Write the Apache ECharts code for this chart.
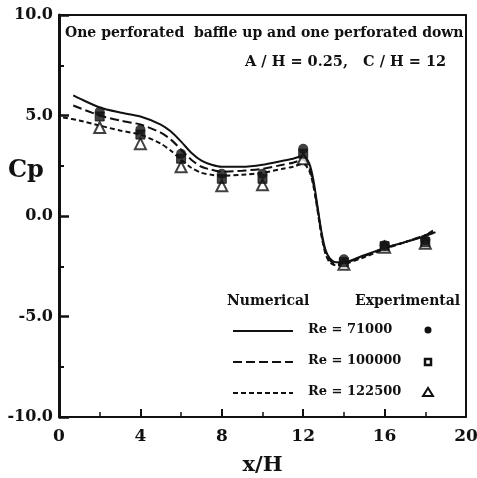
<!DOCTYPE html>
<html>
<head>
<meta charset="utf-8">
<script src="https://cdn.jsdelivr.net/npm/echarts@6/dist/echarts.min.js"></script>
<style>
html,body{margin:0;padding:0;background:#fff;}
#c{width:477px;height:478px;}
</style>
</head>
<body>
<div id="c"></div>
<script>
// ---- data ----
var xTicks = [0, 4, 8, 12, 16, 20];
var yTicks = [-10, -5, 0, 5, 10];

var numX71 = [0.7, 1, 2, 3, 4, 5, 5.5, 6, 6.5, 7, 7.5, 8, 9, 10, 11, 11.5, 12, 12.3, 12.5, 12.7, 12.9, 13.1, 13.3, 13.6, 14, 15, 16, 17, 18, 18.5];
var numY71 = [6.0, 5.85, 5.4, 5.15, 4.95, 4.55, 4.2, 3.7, 3.15, 2.75, 2.55, 2.45, 2.45, 2.55, 2.75, 2.85, 3.0, 2.6, 1.8, 0.5, -0.8, -1.7, -2.1, -2.3, -2.3, -1.95, -1.6, -1.3, -1.0, -0.8];

var numX100 = [0.7, 2, 3, 4, 5, 5.5, 6, 6.5, 7, 7.5, 8, 9, 10, 11, 11.5, 12, 12.3, 12.5, 12.7, 12.9, 13.1, 13.3, 13.6, 14, 15, 16, 17, 18, 18.5];
var numY100 = [5.5, 5.0, 4.75, 4.55, 4.15, 3.8, 3.3, 2.8, 2.45, 2.3, 2.2, 2.25, 2.35, 2.55, 2.65, 2.8, 2.4, 1.6, 0.4, -0.9, -1.8, -2.2, -2.4, -2.35, -2.0, -1.6, -1.3, -0.95, -0.75];

var numX122 = [0.2, 1, 2, 3, 4, 5, 5.5, 6, 6.5, 7, 7.5, 8, 9, 10, 11, 11.5, 12, 12.3, 12.5, 12.7, 12.9, 13.1, 13.3, 13.6, 14, 15, 16, 17, 18, 18.5];
var numY122 = [4.9, 4.75, 4.5, 4.25, 4.05, 3.6, 3.25, 2.8, 2.4, 2.15, 2.05, 2.0, 2.05, 2.15, 2.35, 2.45, 2.6, 2.25, 1.5, 0.3, -1.0, -1.9, -2.3, -2.45, -2.4, -2.05, -1.65, -1.3, -0.95, -0.65];

var expX = [2, 4, 6, 8, 10, 12, 14, 16, 18];
var expY71 = [5.2, 4.3, 3.1, 2.1, 2.1, 3.35, -2.15, -1.45, -1.2];
var expY100 = [4.95, 4.05, 2.85, 1.85, 1.85, 3.1, -2.3, -1.5, -1.3];
var expY122 = [4.4, 3.6, 2.45, 1.5, 1.55, 2.85, -2.4, -1.55, -1.35];

var legendLabels = ['Re = 71000', 'Re = 100000', 'Re = 122500'];

function pairs(xs, ys) { return xs.map(function (x, i) { return [x, ys[i]]; }); }

var FONT = '"DejaVu Serif", "Liberation Serif", serif';
var INK = '#111';

var chart = echarts.init(document.getElementById('c'), null, {renderer: 'canvas'});

var lineBase = { type: 'line', showSymbol: false, smooth: 0.25, z: 2, silent: true };

var option = {
  animation: false,
  backgroundColor: '#fff',
  grid: { left: 59, right: 11, top: 15, bottom: 61, containLabel: false, outerBoundsMode: 'none' },
  xAxis: [{
    type: 'value', min: 0, max: 20, interval: 4,
    axisLine: { show: true, onZero: false, lineStyle: { color: INK, width: 2 } },
    axisTick: { show: true, inside: true, length: 8, lineStyle: { color: INK, width: 2 } },
    minorTick: { show: true, splitNumber: 2, length: 5, lineStyle: { color: INK, width: 1.5 } },
    splitLine: { show: false },
    axisLabel: { color: INK, fontFamily: FONT, fontWeight: 'bold', fontSize: 17, margin: 11 },
    name: 'x/H', nameLocation: 'middle', nameGap: 38,
    nameTextStyle: { color: INK, fontFamily: FONT, fontWeight: 'bold', fontSize: 21 }
  }, {
    type: 'value', min: 0, max: 20, position: 'top',
    axisLine: { show: true, onZero: false, lineStyle: { color: INK, width: 2 } },
    axisTick: { show: false }, axisLabel: { show: false }, splitLine: { show: false }
  }],
  yAxis: [{
    type: 'value', min: -10, max: 10, interval: 5,
    axisLine: { show: true, onZero: false, lineStyle: { color: INK, width: 3 } },
    axisTick: { show: true, inside: true, length: 10, lineStyle: { color: INK, width: 2.5 } },
    minorTick: { show: true, splitNumber: 2, length: 5, lineStyle: { color: INK, width: 2 } },
    splitLine: { show: false },
    axisLabel: { color: INK, fontFamily: FONT, fontWeight: 'bold', fontSize: 16, margin: 6,
      formatter: function (v) { return v.toFixed(1); } }
  }, {
    type: 'value', min: -10, max: 10, position: 'right',
    axisLine: { show: true, onZero: false, lineStyle: { color: INK, width: 2 } },
    axisTick: { show: false }, axisLabel: { show: false }, splitLine: { show: false }
  }],
  series: [
    Object.assign({}, lineBase, { name: legendLabels[0], data: pairs(numX71, numY71),
      lineStyle: { color: INK, width: 2, type: 'solid' } }),
    Object.assign({}, lineBase, { name: legendLabels[1], data: pairs(numX100, numY100),
      lineStyle: { color: INK, width: 2, type: [9, 4] } }),
    Object.assign({}, lineBase, { name: legendLabels[2], data: pairs(numX122, numY122),
      lineStyle: { color: INK, width: 2, type: [5, 3] } }),
    { type: 'scatter', data: pairs(expX, expY122), symbol: 'triangle', symbolSize: 11, z: 3,
      itemStyle: { color: '#fff', borderColor: INK, borderWidth: 2 } },
    { type: 'scatter', data: pairs(expX, expY100), symbol: 'rect', symbolSize: 9, z: 4,
      itemStyle: { color: INK, borderColor: INK, borderWidth: 1 } },
    { type: 'scatter', data: pairs(expX, expY71), symbol: 'circle', symbolSize: 10, z: 5,
      itemStyle: { color: INK } }
  ],
  graphic: [
    { type: 'text', left: 8, top: 159, style: { text: 'Cp', font: 'bold 24px ' + FONT, fill: INK } },
    { type: 'text', left: 65, top: 26, style: { text: 'One perforated  baffle up and one perforated down',
        font: 'bold 14px ' + FONT, fill: INK } },
    { type: 'text', left: 245, top: 55, style: { text: 'A / H = 0.25,   C / H = 12',
        font: 'bold 14.5px ' + FONT, fill: INK } },
    { type: 'text', left: 227, top: 294, style: { text: 'Numerical', font: 'bold 14px ' + FONT, fill: INK } },
    { type: 'text', left: 355, top: 294, style: { text: 'Experimental', font: 'bold 14px ' + FONT, fill: INK } },
    { type: 'line', shape: { x1: 233, y1: 331, x2: 293, y2: 331 }, style: { stroke: INK, lineWidth: 2 } },
    { type: 'line', shape: { x1: 233, y1: 362, x2: 293, y2: 362 }, style: { stroke: INK, lineWidth: 2, lineDash: [9, 4] } },
    { type: 'line', shape: { x1: 233, y1: 393, x2: 293, y2: 393 }, style: { stroke: INK, lineWidth: 2, lineDash: [5, 3] } },
    { type: 'text', left: 308, top: 323, style: { text: legendLabels[0], font: 'bold 13px ' + FONT, fill: INK } },
    { type: 'text', left: 308, top: 354, style: { text: legendLabels[1], font: 'bold 13px ' + FONT, fill: INK } },
    { type: 'text', left: 308, top: 385, style: { text: legendLabels[2], font: 'bold 13px ' + FONT, fill: INK } },
    { type: 'circle', shape: { cx: 428, cy: 330, r: 3.5 }, style: { fill: INK } },
    { type: 'rect', shape: { x: 425, y: 359, width: 6, height: 6 }, style: { fill: '#fff', stroke: INK, lineWidth: 2.5 } },
    { type: 'polygon', shape: { points: [[428, 388], [423, 396], [433, 396]] }, style: { fill: '#fff', stroke: INK, lineWidth: 2 } }
  ]
};
chart.setOption(option);
</script>
</body>
</html>
